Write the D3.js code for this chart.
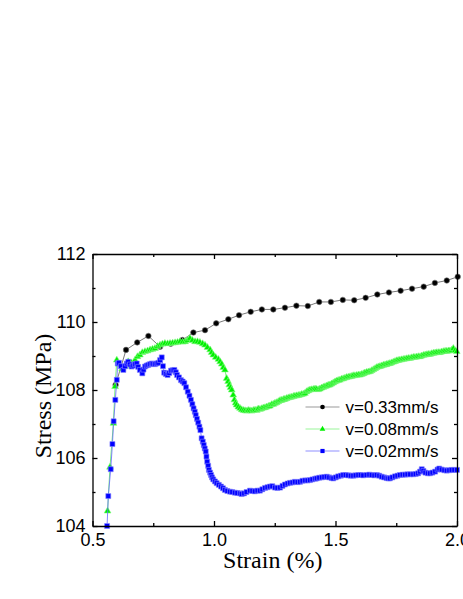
<!DOCTYPE html>
<html>
<head>
<meta charset="utf-8">
<script src="https://cdn.jsdelivr.net/npm/d3@7"></script>
<style>
  body { margin: 0; background: #fff; }
  .axis path, .axis line { stroke: #000; stroke-width: 1.3; }
  .axis text { font-family: "Liberation Sans", Arial, sans-serif; font-size: 18px; fill: #000; }
  .title { font-family: "Liberation Serif", "Times New Roman", serif; font-size: 24px; fill: #000; }
  .legend text { font-family: "Liberation Sans", Arial, sans-serif; font-size: 17px; fill: #000; }
</style>
</head>
<body>
<script>
// Stress-strain curves at three loading rates
var xTicks = [0.5, 1.0, 1.5, 2.0],
    xMinor = [0.75, 1.25, 1.75],
    yTicks = [104, 106, 108, 110, 112],
    yMinor = [105, 107, 109, 111];

var labels = ["v=0.33mm/s", "v=0.08mm/s", "v=0.02mm/s"];

var strainA = [0.595,0.638,0.684,0.730,0.778,0.822,0.870,0.915,0.963,1.009,1.059,1.103,1.151,1.197,1.244,1.292,1.339,1.386,1.433,1.481,1.530,1.577,1.624,1.672,1.720,1.768,1.815,1.863,1.909,1.958,2.003];
var stressA = [108.15,109.18,109.40,109.59,109.27,109.36,109.47,109.69,109.76,109.96,110.08,110.20,110.30,110.37,110.37,110.42,110.48,110.47,110.59,110.59,110.65,110.64,110.71,110.81,110.87,110.92,110.98,111.04,111.15,111.22,111.33];

var strainB = [0.562,0.572,0.586,0.593,0.600,0.610,0.622,0.635,0.647,0.660,0.675,0.685,0.695,0.705,0.716,0.727,0.737,0.747,0.757,0.768,0.778,0.788,0.798,0.809,0.819,0.830,0.840,0.850,0.860,0.871,0.881,0.891,0.901,0.911,0.922,0.932,0.942,0.953,0.963,0.973,0.984,0.990,0.997,1.007,1.018,1.025,1.032,1.038,1.045,1.052,1.058,1.063,1.068,1.073,1.079,1.084,1.089,1.093,1.100,1.107,1.114,1.121,1.128,1.135,1.141,1.148,1.155,1.162,1.169,1.176,1.182,1.189,1.196,1.203,1.210,1.217,1.224,1.230,1.237,1.244,1.251,1.258,1.265,1.272,1.279,1.286,1.292,1.299,1.306,1.313,1.320,1.327,1.333,1.340,1.347,1.354,1.361,1.368,1.374,1.381,1.388,1.395,1.402,1.409,1.416,1.422,1.429,1.436,1.443,1.450,1.457,1.464,1.470,1.477,1.484,1.491,1.498,1.504,1.511,1.518,1.525,1.532,1.539,1.546,1.553,1.560,1.567,1.573,1.580,1.587,1.594,1.601,1.608,1.615,1.621,1.628,1.635,1.642,1.649,1.656,1.663,1.669,1.676,1.683,1.690,1.697,1.704,1.710,1.717,1.724,1.731,1.738,1.745,1.752,1.758,1.765,1.772,1.779,1.786,1.793,1.800,1.807,1.814,1.821,1.827,1.834,1.841,1.848,1.855,1.862,1.869,1.876,1.882,1.889,1.896,1.903,1.910,1.917,1.924,1.930,1.937,1.944,1.951,1.958,1.965,1.971,1.978,1.985,1.992,1.999];
var stressB = [104.44,105.73,107.02,108.10,108.88,108.75,108.62,108.70,108.83,108.80,108.88,108.98,109.03,109.10,109.13,109.15,109.18,109.20,109.22,109.28,109.32,109.35,109.37,109.36,109.37,109.38,109.39,109.40,109.42,109.41,109.42,109.46,109.52,109.46,109.42,109.42,109.40,109.36,109.32,109.25,109.18,109.10,109.03,108.96,108.90,108.83,108.76,108.66,108.59,108.34,108.25,108.15,108.07,108.00,107.85,107.71,107.62,107.56,107.50,107.46,107.42,107.40,107.39,107.38,107.40,107.39,107.38,107.40,107.41,107.40,107.44,107.43,107.45,107.47,107.48,107.50,107.52,107.53,107.57,107.58,107.61,107.63,107.66,107.69,107.70,107.72,107.73,107.75,107.77,107.78,107.79,107.81,107.82,107.83,107.84,107.85,107.87,107.88,107.90,107.95,107.98,108.00,108.01,108.02,108.03,108.02,108.01,108.03,108.06,108.08,108.10,108.12,108.14,108.15,108.18,108.21,108.24,108.26,108.28,108.29,108.32,108.33,108.35,108.37,108.38,108.39,108.40,108.42,108.42,108.43,108.44,108.44,108.46,108.48,108.50,108.52,108.53,108.54,108.57,108.60,108.63,108.66,108.68,108.69,108.71,108.73,108.74,108.75,108.77,108.78,108.80,108.82,108.84,108.86,108.87,108.88,108.89,108.90,108.91,108.92,108.93,108.93,108.95,108.96,108.96,108.97,108.98,108.98,109.00,109.02,109.03,109.04,109.05,109.05,109.07,109.08,109.09,109.10,109.10,109.10,109.12,109.13,109.14,109.14,109.15,109.15,109.17,109.22,109.16,109.13];

var strainC = [0.560,0.565,0.575,0.582,0.587,0.594,0.600,0.604,0.609,0.617,0.627,0.634,0.641,0.647,0.654,0.661,0.668,0.675,0.682,0.688,0.695,0.705,0.710,0.716,0.723,0.730,0.737,0.744,0.750,0.757,0.764,0.771,0.778,0.785,0.790,0.795,0.802,0.809,0.816,0.823,0.830,0.837,0.843,0.848,0.856,0.864,0.871,0.878,0.885,0.892,0.899,0.905,0.911,0.916,0.921,0.925,0.930,0.935,0.940,0.944,0.949,0.954,0.958,0.962,0.966,0.969,0.972,0.976,0.979,0.984,0.988,0.992,0.997,1.004,1.011,1.020,1.029,1.037,1.045,1.055,1.066,1.075,1.086,1.096,1.107,1.114,1.124,1.134,1.148,1.158,1.168,1.179,1.189,1.199,1.210,1.220,1.230,1.240,1.251,1.261,1.272,1.282,1.292,1.303,1.313,1.323,1.333,1.344,1.354,1.364,1.375,1.385,1.395,1.405,1.416,1.423,1.433,1.444,1.454,1.464,1.474,1.484,1.491,1.501,1.511,1.522,1.532,1.542,1.552,1.563,1.573,1.583,1.594,1.604,1.614,1.628,1.639,1.649,1.660,1.670,1.680,1.690,1.700,1.710,1.717,1.724,1.734,1.745,1.755,1.765,1.776,1.786,1.796,1.807,1.820,1.830,1.840,1.848,1.855,1.862,1.870,1.880,1.889,1.899,1.910,1.920,1.927,1.937,1.948,1.958,1.968,1.978,1.989,2.000];
var stressC = [104.00,104.88,105.67,106.41,107.08,107.71,108.30,108.78,108.80,108.70,108.59,108.70,108.78,108.83,108.75,108.69,108.72,108.76,108.78,108.68,108.59,108.49,108.60,108.69,108.72,108.74,108.76,108.78,108.77,108.76,108.78,108.80,108.88,108.96,108.70,108.51,108.47,108.44,108.50,108.57,108.58,108.59,108.52,108.44,108.37,108.29,108.25,108.20,108.08,107.95,107.83,107.71,107.58,107.46,107.36,107.26,107.15,107.04,106.92,106.82,106.58,106.48,106.38,106.28,106.19,106.04,105.89,105.77,105.65,105.57,105.50,105.43,105.37,105.31,105.26,105.21,105.16,105.11,105.06,105.03,105.01,105.00,104.98,104.97,104.96,104.94,104.96,105.00,105.04,105.03,105.02,105.04,105.04,105.08,105.12,105.14,105.16,105.17,105.13,105.12,105.13,105.18,105.22,105.25,105.27,105.28,105.30,105.29,105.30,105.33,105.34,105.34,105.35,105.37,105.39,105.40,105.42,105.43,105.44,105.45,105.43,105.41,105.40,105.43,105.46,105.48,105.50,105.50,105.49,105.48,105.48,105.49,105.50,105.50,105.49,105.50,105.51,105.50,105.49,105.50,105.48,105.45,105.43,105.41,105.40,105.40,105.43,105.46,105.48,105.50,105.51,105.51,105.52,105.52,105.52,105.53,105.55,105.60,105.67,105.62,105.57,105.55,105.55,105.57,105.60,105.66,105.69,105.66,105.64,105.63,105.64,105.65,105.65,105.65];

var margin = {top: 254, left: 92.5},
    width = 364.5,
    height = 272;

var svg = d3.select("body").append("svg")
    .attr("width", 463)
    .attr("height", 599);

var g = svg.append("g")
    .attr("transform", "translate(" + margin.left + "," + margin.top + ")");

var x = d3.scaleLinear().domain([0.5, 2.0]).range([0, width]);
var y = d3.scaleLinear().domain([104, 112]).range([height, 0]);

var series = [
  {name: labels[0], xs: strainA, ys: stressA, type: d3.symbolCircle, size: 24, color: "#000", halo: "#777", line: "#555", legendLine: "#999"},
  {name: labels[1], xs: strainB, ys: stressB, type: d3.symbolTriangle, size: 20, color: "#00f000", halo: "#88f888", line: "#55ee55", legendLine: "#99f599"},
  {name: labels[2], xs: strainC, ys: stressC, type: d3.symbolSquare, size: 25, color: "#0000ff", halo: "#8888ff", line: "#6666ff", legendLine: "#8f8fff"}
];

var line = d3.line()
    .x(function(d) { return x(d[0]); })
    .y(function(d) { return y(d[1]); });

series.forEach(function(s) {
  var pts = d3.zip(s.xs, s.ys);
  var sg = g.append("g");
  sg.append("path")
      .datum(pts)
      .attr("fill", "none")
      .attr("stroke", s.line)
      .attr("stroke-width", 0.8)
      .attr("d", line);
  sg.selectAll("path.pt")
      .data(pts)
    .enter().append("path")
      .attr("class", "pt")
      .attr("transform", function(d) { return "translate(" + x(d[0]) + "," + y(d[1]) + ")"; })
      .attr("d", d3.symbol().type(s.type).size(s.size))
      .attr("fill", s.color)
      .attr("stroke", s.halo)
      .attr("stroke-width", 0.6);
});

// axes, ticks pointing inward
var fmtX = d3.format(".1f");

g.append("g").attr("class", "axis")
    .attr("transform", "translate(0," + height + ")")
    .call(d3.axisBottom(x).tickValues(xTicks).tickFormat(fmtX).tickSizeInner(-5).tickSizeOuter(0).tickPadding(7));
g.append("g").attr("class", "axis")
    .attr("transform", "translate(0," + height + ")")
    .call(d3.axisBottom(x).tickValues(xMinor).tickFormat("").tickSizeInner(-3).tickSizeOuter(0))
    .select(".domain").remove();

g.append("g").attr("class", "axis")
    .call(d3.axisTop(x).tickValues(xTicks).tickFormat("").tickSizeInner(-5).tickSizeOuter(0));
g.append("g").attr("class", "axis")
    .call(d3.axisTop(x).tickValues(xMinor).tickFormat("").tickSizeInner(-3).tickSizeOuter(0))
    .select(".domain").remove();

g.append("g").attr("class", "axis")
    .call(d3.axisLeft(y).tickValues(yTicks).tickSizeInner(-5).tickSizeOuter(0).tickPadding(7));
g.append("g").attr("class", "axis")
    .call(d3.axisLeft(y).tickValues(yMinor).tickFormat("").tickSizeInner(-3).tickSizeOuter(0))
    .select(".domain").remove();

g.append("g").attr("class", "axis")
    .attr("transform", "translate(" + width + ",0)")
    .call(d3.axisRight(y).tickValues(yTicks).tickFormat("").tickSizeInner(-5).tickSizeOuter(0));
g.append("g").attr("class", "axis")
    .attr("transform", "translate(" + width + ",0)")
    .call(d3.axisRight(y).tickValues(yMinor).tickFormat("").tickSizeInner(-3).tickSizeOuter(0))
    .select(".domain").remove();

// titles
g.append("text")
    .attr("class", "title")
    .attr("x", width / 2 - 2)
    .attr("y", height + 42)
    .attr("text-anchor", "middle")
    .text("Strain (%)");

g.append("text")
    .attr("class", "title")
    .attr("transform", "translate(-41.5," + (height / 2 + 6) + ")rotate(-90)")
    .attr("text-anchor", "middle")
    .text("Stress (MPa)");

// legend
var legend = g.append("g")
    .attr("class", "legend")
    .attr("transform", "translate(213,153)");

var item = legend.selectAll("g")
    .data(series)
  .enter().append("g")
    .attr("transform", function(d, i) { return "translate(0," + i * 22 + ")"; });

item.append("line")
    .attr("x1", 0).attr("x2", 34)
    .attr("stroke", function(d) { return d.legendLine; })
    .attr("stroke-width", 1);

item.append("path")
    .attr("transform", "translate(17,0)")
    .attr("d", function(d) { return d3.symbol().type(d.type).size(d.size * 0.7)(); })
    .attr("fill", function(d) { return d.color; });

item.append("text")
    .attr("x", 40)
    .attr("dy", "0.35em")
    .text(function(d) { return d.name; });
</script>
</body>
</html>
